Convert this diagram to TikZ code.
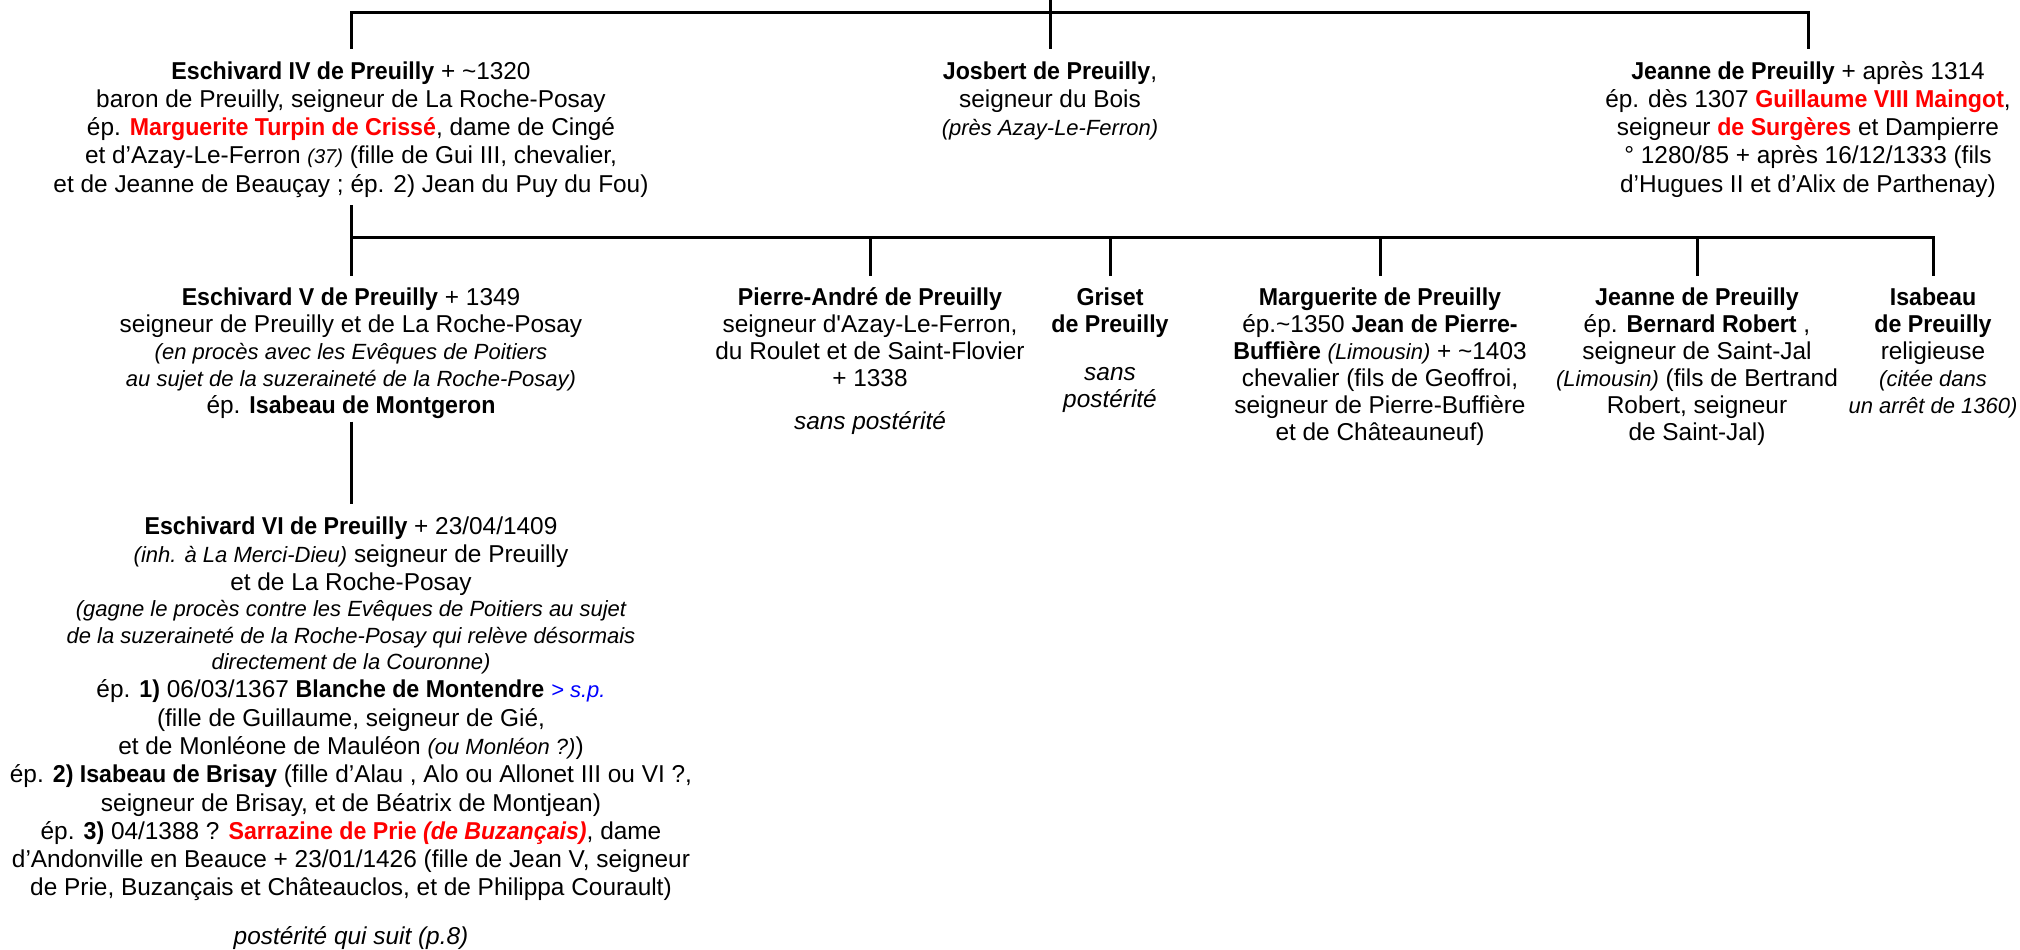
\documentclass[tikz,border=0pt]{standalone}
\usepackage{fontspec}
\setmainfont{Liberation Sans}[BoldFeatures={FakeStretch=0.95},BoldItalicFeatures={FakeStretch=0.95}]
\newcommand{\ptld}{\textasciitilde}
\newcommand{\psit}[1]{{\fontsize{11}{13}\selectfont\itshape #1}}
\newcommand{\ptny}[1]{{\fontsize{10}{12}\selectfont\itshape #1}}
\newcommand{\pred}[1]{\textcolor{red}{\textbf{#1}}}
\newcommand{\pblk}[1]{\begin{tabular}[t]{@{}c@{}}#1\end{tabular}}
\newcommand{\ptg}{\noalign{\vskip-1pt}}
\begin{document}
\begin{tikzpicture}[x=0.5pt,y=-0.5pt,
  tree/.style={line width=1.5pt},
  person/.style={inner xsep=0pt, inner ysep=5pt, anchor=base, font=\fontsize{12.2}{14.15}\selectfont},
  rowtwo/.style={person, font=\fontsize{12.2}{13.5}\selectfont}]
\useasboundingbox (0,0) rectangle (2020,949);

% generation 1
\node[person] (A) at (351,79) {\pblk{\textbf{Eschivard IV de Preuilly} + \ptld1320\\
 baron de Preuilly, seigneur de La Roche-Posay\\
 ép. \pred{Marguerite Turpin de Crissé}, dame de Cingé\\
 et d’Azay-Le-Ferron \ptny{(37)} (fille de Gui III, chevalier,\\
 et de Jeanne de Beauçay ; ép. 2) Jean du Puy du Fou)}};
\node[person] (B) at (1050,79) {\pblk{\textbf{Josbert de Preuilly},\\
 seigneur du Bois\\
 \psit{(près Azay-Le-Ferron)}}};
\node[person] (C) at (1808,79) {\pblk{\textbf{Jeanne de Preuilly} + après 1314\\
 ép. dès 1307 \pred{Guillaume VIII Maingot},\\
 seigneur \pred{de Surgères} et Dampierre\\
 ° 1280/85 + après 16/12/1333 (fils\\
 d’Hugues II et d’Alix de Parthenay)}};

% generation 2
\node[rowtwo] (D) at (351,305) {\pblk{\textbf{Eschivard V de Preuilly} + 1349\\
 seigneur de Preuilly et de La Roche-Posay\\
 \psit{(en procès avec les Evêques de Poitiers}\\
 \psit{au sujet de la suzeraineté de la Roche-Posay)}\\
 ép. \textbf{Isabeau de Montgeron}}};
\node[rowtwo] (E) at (870,305) {\pblk{\textbf{Pierre-André de Preuilly}\\
 seigneur d\textquotesingle Azay-Le-Ferron,\\
 du Roulet et de Saint-Flovier\\
 + 1338\\ \noalign{\vskip 8pt}
 \textit{sans postérité}}};
\node[rowtwo] (F) at (1110,305) {\pblk{\textbf{Griset}\\
 \textbf{de Preuilly}\\ \noalign{\vskip 10.5pt}
 \textit{sans}\\
 \textit{postérité}}};
\node[rowtwo] (G) at (1380,305) {\pblk{\textbf{Marguerite de Preuilly}\\
 ép.\ptld1350 \textbf{Jean de Pierre-}\\
 \textbf{Buffière} \psit{(Limousin)} + \ptld1403\\
 chevalier (fils de Geoffroi,\\
 seigneur de Pierre-Buffière\\
 et de Châteauneuf)}};
\node[rowtwo] (H) at (1697,305) {\pblk{\textbf{Jeanne de Preuilly}\\
 ép. \textbf{Bernard Robert} ,\\
 seigneur de Saint-Jal\\
 \psit{(Limousin)} (fils de Bertrand\\
 Robert, seigneur\\
 de Saint-Jal)}};
\node[rowtwo] (I) at (1933,305) {\pblk{\textbf{Isabeau}\\
 \textbf{de Preuilly}\\
 religieuse\\
 \psit{(citée dans}\\
 \psit{un arrêt de 1360)}}};

% generation 3
\node[person] (J) at (351,534) {\pblk{\textbf{Eschivard VI de Preuilly} + 23/04/1409\\
 \psit{(inh. à La Merci-Dieu)} seigneur de Preuilly\\
 et de La Roche-Posay\\ \ptg
 \psit{(gagne le procès contre les Evêques de Poitiers au sujet}\\ \ptg
 \psit{de la suzeraineté de la Roche-Posay qui relève désormais}\\ \ptg
 \psit{directement de la Couronne)}\\
 ép. \textbf{1)} 06/03/1367 \textbf{Blanche de Montendre} \textcolor{blue}{\psit{> s.p.}}\\
 (fille de Guillaume, seigneur de Gié,\\
 et de Monléone de Mauléon \psit{(ou Monléon ?)})\\
 ép. \textbf{2) Isabeau de Brisay} (fille d’Alau , Alo ou Allonet III ou VI ?,\\
 seigneur de Brisay, et de Béatrix de Montjean)\\
 ép. \textbf{3)} 04/1388 ? \textcolor{red}{\textbf{Sarrazine de Prie \textit{(de Buzançais)}}}, dame\\
 d’Andonville en Beauce + 23/01/1426 (fille de Jean V, seigneur\\
 de Prie, Buzançais et Châteauclos, et de Philippa Courault)\\ \noalign{\vskip 10pt}
 \textit{postérité qui suit (p.8)}}};

% connectors
\coordinate (top) at (1050,0);
\coordinate (bar1) at (1050,12);
\coordinate (bar2) at (351,237);
\draw[tree] (A.north) -- (A.north |- bar1) -- (C.north |- bar1) -- (C.north);
\draw[tree] (top) -- (B.north);
\draw[tree] ([yshift=3pt]A.south) -- (D.north);
\draw[tree] (D.north |- bar2) -- (I.north |- bar2) -- (I.north);
\foreach \n in {E,F,G,H} \draw[tree] (\n.north |- bar2) -- (\n.north);
\draw[tree] ([yshift=5pt]D.south) -- (J.north);
\end{tikzpicture}
\end{document}
